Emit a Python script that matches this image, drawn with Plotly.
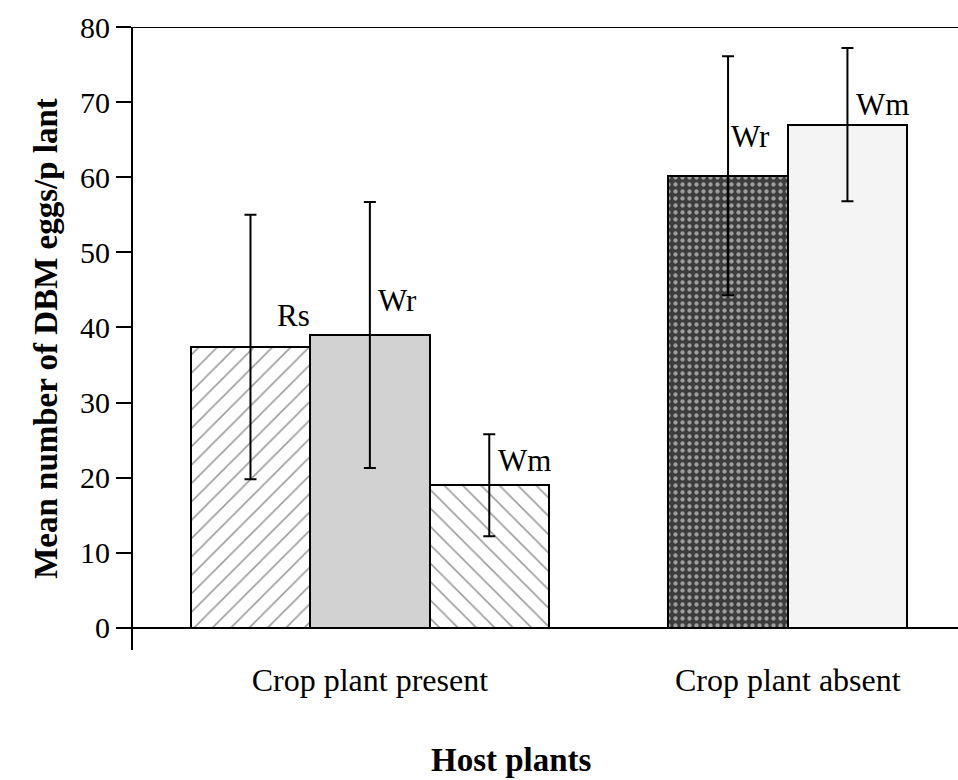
import plotly.graph_objects as go

# Mean DBM eggs per plant on each host plant, grouped by crop-plant presence
groups = ["Crop plant present", "Crop plant absent"]
group_hosts = [["Rs", "Wr", "Wm"], ["Wr", "Wm"]]
group_means = [[37.4, 39.0, 19.0], [60.2, 67.0]]
group_se = [[17.6, 17.7, 6.8], [15.9, 10.2]]
y_ticks = [0, 10, 20, 30, 40, 50, 60, 70, 80]

# Fill style for each bar, in drawing order
bar_styles = [
    dict(color="white", pattern=dict(shape="/", fgcolor="#3a3a3a", bgcolor="white", size=13, solidity=0.12)),
    dict(color="#d2d2d2", pattern=dict(shape="")),
    dict(color="white", pattern=dict(shape="\\", fgcolor="#3a3a3a", bgcolor="white", size=13, solidity=0.12)),
    dict(color="#3c3c3c", pattern=dict(shape=".", fgcolor="white", bgcolor="#3c3c3c", size=7, solidity=0.3)),
    dict(color="#f4f4f4", pattern=dict(shape="")),
]
# Label offsets (px) for the host-plant names next to each error bar
label_shifts = [(25, 32), (6, 35), (7, 25), (1, 39), (7, 20)]

SERIF = "Liberation Serif, Times New Roman, serif"

# Bar positions: one bar per unit, one empty slot between groups
positions, names, means, ses, centers = [], [], [], [], []
pos = 1
for hosts, m, s in zip(group_hosts, group_means, group_se):
    start = pos
    for h, v, e in zip(hosts, m, s):
        positions.append(pos)
        names.append(h)
        means.append(v)
        ses.append(e)
        pos += 1
    centers.append((start + pos - 1) / 2)
    pos += 1

fig = go.Figure()
for x, name, v, e, st in zip(positions, names, means, ses, bar_styles):
    fig.add_trace(go.Bar(
        x=[x], y=[v], width=1.0,
        marker=dict(color=st["color"], pattern=st["pattern"],
                    line=dict(color="black", width=2)),
        error_y=dict(type="data", array=[e], visible=True,
                     color="black", thickness=2, width=6),
        showlegend=False, name=name,
    ))

for x, name, v, (dx, dy) in zip(positions, names, means, label_shifts):
    fig.add_annotation(x=x, y=v, text=name, showarrow=False,
                       xanchor="left", yanchor="middle",
                       xshift=dx, yshift=dy,
                       font=dict(family=SERIF, size=31, color="black"))

y_min, y_max = -2.93, 80
zero_frac = (0 - y_min) / (y_max - y_min)

# Top frame line at 80
fig.add_shape(type="line", xref="paper", yref="y", x0=0, x1=1, y0=80, y1=80,
              line=dict(color="black", width=2))

fig.add_annotation(text="<b>Host plants</b>", xref="paper", yref="paper",
                   x=(511 - 133) / 825, y=-0.176, showarrow=False,
                   xanchor="center", yanchor="middle",
                   font=dict(family=SERIF, size=33, color="black"))

fig.update_layout(
    width=958, height=780,
    margin=dict(l=133, r=0, t=27, b=130),
    paper_bgcolor="white", plot_bgcolor="white",
    bargap=0,
    font=dict(family=SERIF, color="black"),
    xaxis=dict(
        range=[0.016, 6.926],
        tickvals=centers, ticktext=groups,
        tickfont=dict(family=SERIF, size=32),
        ticks="", showgrid=False, zeroline=False,
        showline=True, linecolor="black", linewidth=2,
        anchor="free", position=zero_frac,
        ticklabelstandoff=24,
    ),
    yaxis=dict(
        range=[y_min, y_max],
        tickvals=y_ticks,
        tickfont=dict(family=SERIF, size=30),
        ticks="outside", ticklen=15, tickwidth=2, tickcolor="black",
        showgrid=False, zeroline=False,
        showline=True, linecolor="black", linewidth=2,
        title=dict(text="<b>Mean number of DBM eggs/p lant</b>",
                   font=dict(family=SERIF, size=33), standoff=12),
    ),
)

fig.write_html("out.html")
